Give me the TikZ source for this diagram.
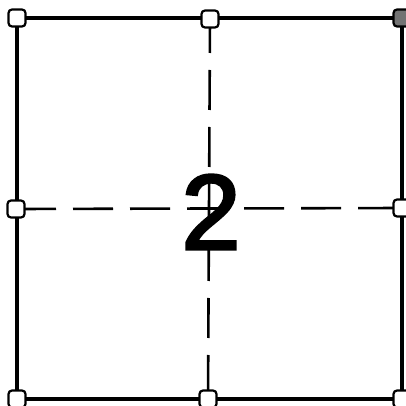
\documentclass[tikz,border=0pt]{standalone}
\usepackage{fontspec}
\newfontfamily\digitfont[FakeBold=2.5]{Liberation Sans}
\begin{document}
\begin{tikzpicture}[x=1pt,y=-1pt,
  handle/.style={draw=black,fill=white,line width=2.2pt,rounded corners=3.5pt,minimum size=17pt,inner sep=0pt},
  handlefilled/.style={handle,fill=black!55},
  frameline/.style={line width=3.2pt,line cap=round},
  guideline/.style={line width=2.6pt,dash pattern=on 40pt off 17pt}]
\useasboundingbox (0,0) rectangle (405,406);
% handles positions
\coordinate (ptl) at (17,18);
\coordinate (ptm) at (210,19);
\coordinate (ptr) at (402,18);
\coordinate (pml) at (16,209);
\coordinate (pmr) at (402,208);
\coordinate (pbl) at (17,399);
\coordinate (pbm) at (208,399);
\coordinate (pbr) at (402,399);
% guide lines
\draw[guideline] (pml) -- (pmr);
\draw[guideline,dash phase=6pt] (ptm) -- (pbm);
% frame
\draw[frameline] (ptl) -- (ptr) -- (pbr) -- (pbl) -- cycle;
% label
\node[inner sep=0pt] (lbl) at (211,212) {\digitfont\fontsize{107}{107}\selectfont 2};
% handles
\node[handle] (tl) at (ptl) {};
\node[handle] (tm) at (ptm) {};
\node[handlefilled] (tr) at (ptr) {};
\node[handle] (ml) at (pml) {};
\node[handle] (mr) at (pmr) {};
\node[handle] (bl) at (pbl) {};
\node[handle] (bm) at (pbm) {};
\node[handle] (br) at (pbr) {};
\end{tikzpicture}
\end{document}
